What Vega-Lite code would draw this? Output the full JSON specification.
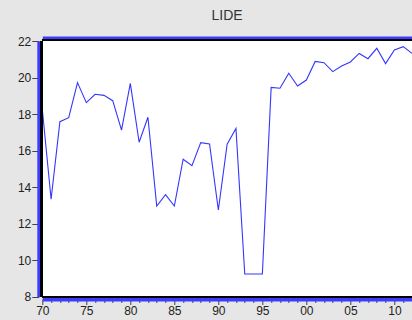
{
  "$schema": "https://vega.github.io/schema/vega-lite/v6.json",
  "autosize": {"type": "none"},
  "width": 369.7,
  "height": 255.5,
  "padding": {"left": 42.3, "top": 41, "right": 0, "bottom": 23.5},
  "background": "#e6e6e6",
  "title": {"text": "LIDE", "fontSize": 14, "font": "Liberation Sans", "fontWeight": "normal", "color": "#333333", "anchor": "middle", "frame": "group", "baseline": "alphabetic", "offset": 1.5},
  "config": {
    "view": {"fill": "white", "stroke": null},
    "axis": {"grid": false, "title": null, "labelFont": "Liberation Sans", "labelFontSize": 12, "labelColor": "#222222", "tickColor": "#444444"}
  },
  "data": {"values": [
    {"year": 1970, "lide": 18.26}, {"year": 1971, "lide": 13.33}, {"year": 1972, "lide": 17.58},
    {"year": 1973, "lide": 17.8}, {"year": 1974, "lide": 19.72}, {"year": 1975, "lide": 18.62},
    {"year": 1976, "lide": 19.08}, {"year": 1977, "lide": 19.02}, {"year": 1978, "lide": 18.73},
    {"year": 1979, "lide": 17.12}, {"year": 1980, "lide": 19.68}, {"year": 1981, "lide": 16.45},
    {"year": 1982, "lide": 17.82}, {"year": 1983, "lide": 12.96}, {"year": 1984, "lide": 13.58},
    {"year": 1985, "lide": 12.96}, {"year": 1986, "lide": 15.52}, {"year": 1987, "lide": 15.17},
    {"year": 1988, "lide": 16.43}, {"year": 1989, "lide": 16.36}, {"year": 1990, "lide": 12.74},
    {"year": 1991, "lide": 16.35}, {"year": 1992, "lide": 17.21}, {"year": 1993, "lide": 9.23},
    {"year": 1994, "lide": 9.23}, {"year": 1995, "lide": 9.23}, {"year": 1996, "lide": 19.46},
    {"year": 1997, "lide": 19.41}, {"year": 1998, "lide": 20.23}, {"year": 1999, "lide": 19.53},
    {"year": 2000, "lide": 19.86}, {"year": 2001, "lide": 20.88}, {"year": 2002, "lide": 20.81},
    {"year": 2003, "lide": 20.32}, {"year": 2004, "lide": 20.63}, {"year": 2005, "lide": 20.85},
    {"year": 2006, "lide": 21.32}, {"year": 2007, "lide": 21.03}, {"year": 2008, "lide": 21.6},
    {"year": 2009, "lide": 20.76}, {"year": 2010, "lide": 21.51}, {"year": 2011, "lide": 21.69},
    {"year": 2012, "lide": 21.32}
  ]},
  "resolve": {"axis": {"x": "independent", "y": "independent"}},
  "layer": [
    {
      "mark": {"type": "line", "color": "#3535ff", "strokeWidth": 1.1},
      "encoding": {
        "x": {"field": "year", "type": "quantitative",
          "scale": {"domain": [1970, 2012], "nice": false, "zero": false},
          "axis": {"orient": "bottom", "offset": 2.5, "domainColor": "#3c3cff", "domainWidth": 4,
            "values": [1970,1971,1972,1973,1974,1975,1976,1977,1978,1979,1980,1981,1982,1983,1984,1985,1986,1987,1988,1989,1990,1991,1992,1993,1994,1995,1996,1997,1998,1999,2000,2001,2002,2003,2004,2005,2006,2007,2008,2009,2010,2011,2012],
            "tickSize": {"condition": {"test": "datum.value % 5 === 0", "value": 5.5}, "value": 3.5},
            "labelExpr": "datum.value % 5 === 0 ? substring(toString(datum.value), 2, 4) : ''",
            "labelOverlap": false, "labelFlush": false, "labelPadding": 1}},
        "y": {"field": "lide", "type": "quantitative",
          "scale": {"domain": [8, 22], "nice": false, "zero": false},
          "axis": {"orient": "left", "offset": 3.5, "domainColor": "#3c3cff", "domainWidth": 4,
            "values": [8, 10, 12, 14, 16, 18, 20, 22], "tickSize": 7, "labelPadding": 1,
            "labelOverlap": false, "labelFlush": false}}
      }
    },
    {
      "mark": {"type": "rule", "color": "#000000", "strokeWidth": 1.4, "xOffset": -0.9},
      "encoding": {
        "x": {"datum": 1970, "type": "quantitative",
          "axis": {"orient": "top", "offset": 3.2, "labels": false, "ticks": false, "domainColor": "#3c3cff", "domainWidth": 3.6}}
      }
    },
    {
      "mark": {"type": "rule", "color": "#000000", "strokeWidth": 1.4, "yOffset": -0.9},
      "encoding": {"y": {"datum": 22, "type": "quantitative", "axis": null}}
    },
    {
      "mark": {"type": "rule", "color": "#000000", "strokeWidth": 1.2, "yOffset": 0.6},
      "encoding": {"y": {"datum": 8, "type": "quantitative", "axis": null}}
    }
  ]
}
